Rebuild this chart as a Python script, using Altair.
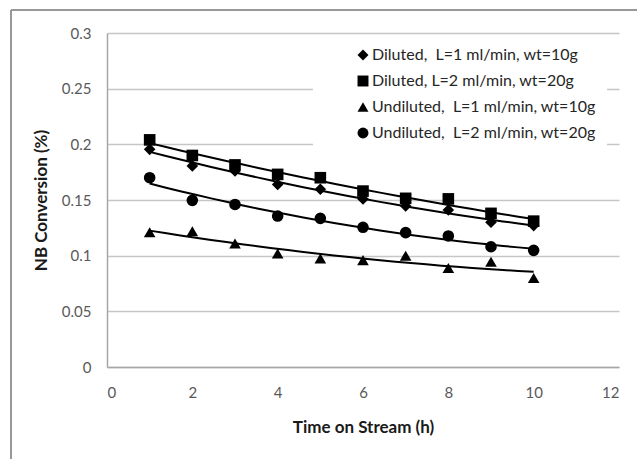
import altair as alt
import pandas as pd

hours = [1, 2, 3, 4, 5, 6, 7, 8, 9, 10]
series_names = [
    "Diluted,\u00a0 L=1 ml/min, wt=10g",
    "Diluted, L=2 ml/min, wt=20g",
    "Undiluted,\u00a0 L=1 ml/min, wt=10g",
    "Undiluted,\u00a0 L=2 ml/min, wt=20g",
]
diluted_l1 = [0.1955, 0.1806, 0.176, 0.164, 0.1596, 0.151, 0.1446, 0.141, 0.130, 0.127]
diluted_l2 = [0.204, 0.190, 0.1815, 0.173, 0.170, 0.158, 0.1515, 0.151, 0.138, 0.131]
undiluted_l1 = [0.121, 0.122, 0.111, 0.102, 0.0975, 0.096, 0.100, 0.089, 0.0945, 0.080]
undiluted_l2 = [0.170, 0.1497, 0.146, 0.1356, 0.1335, 0.1255, 0.1207, 0.1177, 0.108, 0.1048]
shapes = ["diamond", "square", "triangle-up", "circle"]

rows = []
for name, vals in zip(series_names, [diluted_l1, diluted_l2, undiluted_l1, undiluted_l2]):
    for h, v in zip(hours, vals):
        rows.append({"x": h, "y": v, "series": name})
df = pd.DataFrame(rows)

FONT = "Lato"
xs = alt.X("x:Q", title="Time on Stream (h)",
           scale=alt.Scale(domain=[0, 12], nice=False),
           axis=alt.Axis(values=[0, 2, 4, 6, 8, 10, 12], grid=False))
ys = alt.Y("y:Q", title="NB Conversion (%)",
           scale=alt.Scale(domain=[0, 0.3], nice=False),
           axis=alt.Axis(values=[0, 0.05, 0.1, 0.15, 0.2, 0.25, 0.3], format="~g", grid=True))

base = alt.Chart(df)

lines = base.transform_regression(
    "x", "y", groupby=["series"], method="poly", order=2
).mark_line(color="black", strokeWidth=2).encode(x=xs, y=ys, detail="series:N")

points = base.mark_point(filled=True, color="black", opacity=1, size=135).encode(
    x=xs, y=ys,
    shape=alt.Shape("series:N", sort=series_names,
                    scale=alt.Scale(domain=series_names, range=shapes),
                    legend=alt.Legend(title=None, orient="none", legendX=206, legendY=3,
                                      fillColor="white", padding=11, symbolOffset=31,
                                      labelFont=FONT, labelFontSize=16, labelColor="#262626",
                                      labelLimit=400, rowPadding=10, labelOffset=1,
                                      symbolSize=120, symbolFillColor="black",
                                      symbolStrokeWidth=0)),
)

frame_left = alt.Chart(df).mark_rule(color="#999999", strokeWidth=1.5).encode(
    x=alt.value(-96), y=alt.value(-23), y2=alt.value(430))
frame_top = alt.Chart(df).mark_rule(color="#999999", strokeWidth=1.5).encode(
    x=alt.value(-96), x2=alt.value(530), y=alt.value(-23))

chart = alt.layer(frame_left, frame_top, lines, points).properties(
    width=512, height=334,
    autosize=alt.AutoSizeParams(type="none"),
    padding={"left": 107, "top": 33, "right": 18, "bottom": 92},
).configure_view(stroke=None).configure_axis(
    labelFont=FONT, labelFontSize=15, labelColor="#595959",
    titleFont=FONT, titleFontSize=17, titleFontWeight="bold", titleColor="#1a1a1a",
    domainColor="#a6a6a6", domainWidth=1.5, gridColor="#c6c6c6", gridWidth=1.5,
    ticks=False,
).configure_axisX(labelPadding=18, titlePadding=19).configure_axisY(
    labelPadding=16, titlePadding=11, domain=True)

chart.save("out.html", embed_options={"renderer": "svg", "actions": False})
